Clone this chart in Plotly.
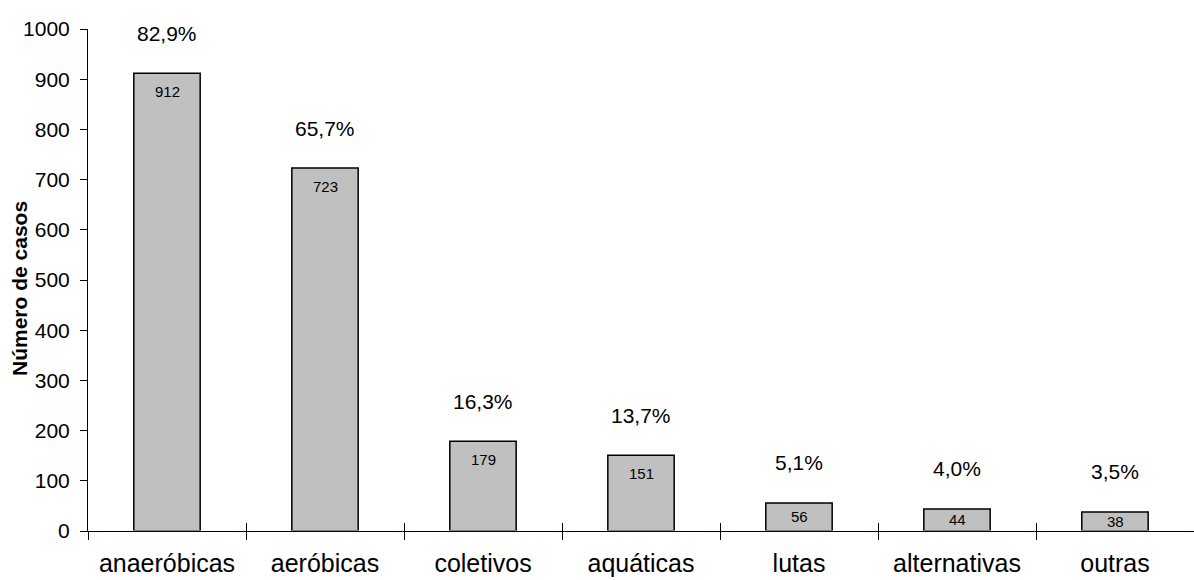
import plotly.graph_objects as go

categorias = ["anaeróbicas", "aeróbicas", "coletivos", "aquáticas", "lutas", "alternativas", "outras"]
casos = [912, 723, 179, 151, 56, 44, 38]
percentuais = ["82,9%", "65,7%", "16,3%", "13,7%", "5,1%", "4,0%", "3,5%"]
y_ticks = [0, 100, 200, 300, 400, 500, 600, 700, 800, 900, 1000]

FONT = "Liberation Sans, Arial, sans-serif"
W, H = 1194, 580
M_L, M_R, M_T, M_B = 88, 0, 29, 49
Y_MAX = 1000
px_per_unit = (H - M_T - M_B) / Y_MAX

fig = go.Figure()
fig.add_trace(go.Bar(
    x=categorias, y=casos, width=0.42,
    marker=dict(color="#c0c0c0", line=dict(color="#000000", width=1.5)),
    hoverinfo="skip",
))
# invisible trace to carry the second x axis (crossing tick marks)
fig.add_trace(go.Bar(x=categorias, y=[0] * len(categorias), xaxis="x2",
                     marker=dict(color="rgba(0,0,0,0)"), hoverinfo="skip"))

annotations = []
for cat, v, p in zip(categorias, casos, percentuais):
    # percentage above the bar
    annotations.append(dict(x=cat, y=v, text=p, showarrow=False, yanchor="middle",
                            yshift=40, font=dict(family=FONT, size=21, color="#000")))
    # count just inside the top of the bar
    shift = min(18, v * px_per_unit / 2)
    annotations.append(dict(x=cat, y=v, text=str(v), showarrow=False, yanchor="middle",
                            yshift=-shift, font=dict(family=FONT, size=15, color="#000")))

# y-axis title
annotations.append(dict(x=0, y=0.5, xref="paper", yref="paper", xanchor="center",
                        yanchor="middle", xshift=-69, yshift=-9, textangle=-90,
                        text="<b>Número de casos</b>", showarrow=False,
                        font=dict(family=FONT, size=21, color="#000")))

fig.update_layout(
    width=W, height=H,
    margin=dict(l=M_L, r=M_R, t=M_T, b=M_B, autoexpand=False),
    plot_bgcolor="white", paper_bgcolor="white",
    showlegend=False, barmode="overlay",
    font=dict(family=FONT, color="#000"),
    annotations=annotations,
    xaxis=dict(
        showline=True, linecolor="#000", linewidth=1,
        ticks="outside", ticklen=8, tickcolor="#000", tickwidth=1,
        tickson="boundaries", showgrid=False, zeroline=False,
        tickfont=dict(family=FONT, size=25), range=[-0.5, 6.5],
        ticklabelstandoff=10, automargin=False,
    ),
    xaxis2=dict(
        overlaying="x", matches="x", showline=False,
        ticks="inside", ticklen=8, tickcolor="#000", tickwidth=1,
        tickson="boundaries", showticklabels=False, showgrid=False,
        zeroline=False,
    ),
    yaxis=dict(
        range=[0, Y_MAX], tickvals=y_ticks, showline=True, linecolor="#000", linewidth=1,
        ticks="outside", ticklen=7, tickcolor="#000", showgrid=False, zeroline=False,
        tickfont=dict(family=FONT, size=21), ticklabelstandoff=6, automargin=False,
    ),
)

fig.write_html("out.html")
